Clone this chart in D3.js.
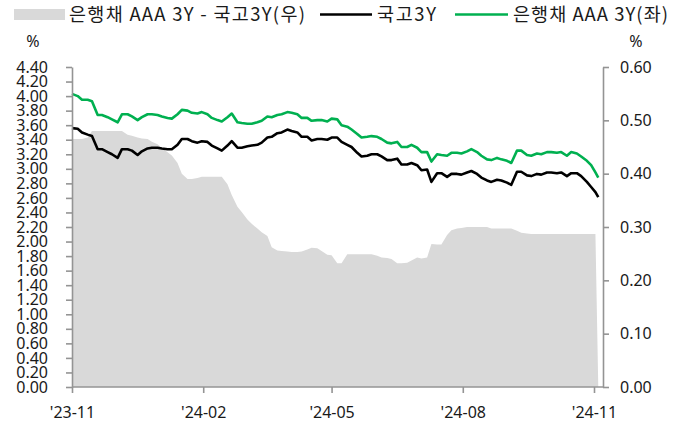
<!DOCTYPE html>
<html>
<head>
<meta charset="utf-8">
<script src="https://cdn.jsdelivr.net/npm/d3@7"></script>
<style>
  html, body { margin: 0; padding: 0; background: #fff; }
  svg { display: block; }
  text { font-family: "Noto Sans", "Noto Sans CJK KR", sans-serif; fill: #1a1a1a; }
  .kr { font-family: "Noto Sans CJK KR", "Noto Sans", sans-serif; }
</style>
</head>
<body>
<svg id="chart" width="684" height="425"></svg>
<script>
// ---------------- DATA ----------------
const dates = ["2023-11-01","2023-11-05","2023-11-08","2023-11-12","2023-11-15","2023-11-19","2023-11-22","2023-11-26","2023-11-29",
"2023-12-03","2023-12-06","2023-12-10","2023-12-13","2023-12-17","2023-12-20","2023-12-24","2023-12-27","2023-12-31",
"2024-01-03","2024-01-07","2024-01-10","2024-01-14","2024-01-17","2024-01-21","2024-01-24","2024-01-28","2024-01-31",
"2024-02-04","2024-02-07","2024-02-11","2024-02-14","2024-02-18","2024-02-21","2024-02-25","2024-02-28",
"2024-03-03","2024-03-06","2024-03-10","2024-03-13","2024-03-17","2024-03-20","2024-03-24","2024-03-27","2024-03-31",
"2024-04-03","2024-04-07","2024-04-10","2024-04-14","2024-04-17","2024-04-21","2024-04-24","2024-04-28",
"2024-05-01","2024-05-05","2024-05-08","2024-05-12","2024-05-15","2024-05-19","2024-05-22","2024-05-26","2024-05-29",
"2024-06-02","2024-06-05","2024-06-09","2024-06-12","2024-06-16","2024-06-19","2024-06-23","2024-06-26","2024-06-30",
"2024-07-03","2024-07-07","2024-07-10","2024-07-14","2024-07-17","2024-07-21","2024-07-24","2024-07-28","2024-07-31",
"2024-08-04","2024-08-07","2024-08-11","2024-08-14","2024-08-18","2024-08-21","2024-08-25","2024-08-28",
"2024-09-01","2024-09-04","2024-09-08","2024-09-11","2024-09-15","2024-09-18","2024-09-22","2024-09-25","2024-09-29",
"2024-10-02","2024-10-06","2024-10-09","2024-10-13","2024-10-16","2024-10-20","2024-10-23","2024-10-27","2024-10-30",
"2024-11-02","2024-11-04"];

// 국고3Y (left axis, %)
const ktb3y = [3.56,3.55,3.50,3.47,3.45,3.27,3.27,3.23,3.20,
3.15,3.27,3.27,3.25,3.19,3.24,3.28,3.29,3.29,
3.28,3.27,3.27,3.33,3.41,3.41,3.38,3.36,3.38,
3.37,3.32,3.28,3.25,3.32,3.38,3.29,3.29,
3.31,3.32,3.33,3.36,3.43,3.44,3.49,3.50,3.54,
3.52,3.50,3.44,3.44,3.39,3.41,3.41,3.40,
3.43,3.43,3.37,3.33,3.30,3.22,3.17,3.18,3.20,
3.20,3.17,3.12,3.12,3.14,3.06,3.06,3.08,3.05,
2.98,2.99,2.82,2.94,2.94,2.89,2.93,2.93,2.92,
2.95,2.97,2.93,2.88,2.84,2.82,2.85,2.84,
2.81,2.78,2.96,2.96,2.91,2.90,2.93,2.92,2.95,
2.95,2.94,2.95,2.90,2.94,2.94,2.90,2.82,2.75,
2.68,2.61];

// 은행채 AAA 3Y (left axis, %)
const bankAAA3y = [4.03,4.00,3.95,3.95,3.93,3.74,3.74,3.71,3.68,
3.64,3.75,3.75,3.72,3.67,3.71,3.75,3.75,3.74,
3.72,3.70,3.69,3.75,3.81,3.80,3.77,3.76,3.78,
3.75,3.70,3.67,3.65,3.71,3.76,3.64,3.63,
3.62,3.62,3.64,3.66,3.72,3.71,3.74,3.75,3.78,
3.77,3.75,3.70,3.70,3.66,3.67,3.67,3.65,
3.69,3.68,3.60,3.58,3.54,3.48,3.43,3.44,3.45,
3.44,3.41,3.36,3.35,3.37,3.30,3.30,3.33,3.29,
3.23,3.23,3.10,3.20,3.19,3.18,3.22,3.22,3.21,
3.24,3.27,3.23,3.18,3.13,3.12,3.15,3.13,
3.11,3.08,3.25,3.25,3.19,3.18,3.21,3.20,3.23,
3.23,3.22,3.23,3.18,3.23,3.21,3.17,3.11,3.05,
2.95,2.88];

// 은행채 AAA 3Y - 국고3Y (right axis, %p)
const spread = [0.465,0.465,0.465,0.468,0.480,0.480,0.480,0.480,0.480,
0.480,0.480,0.473,0.471,0.468,0.466,0.465,0.460,0.455,
0.448,0.440,0.434,0.420,0.400,0.390,0.390,0.392,0.394,
0.394,0.394,0.394,0.394,0.380,0.360,0.338,0.328,
0.314,0.306,0.297,0.290,0.283,0.262,0.256,0.255,0.254,
0.253,0.253,0.254,0.258,0.261,0.260,0.255,0.248,
0.247,0.232,0.232,0.249,0.249,0.249,0.249,0.249,0.249,
0.246,0.243,0.242,0.240,0.232,0.232,0.233,0.237,0.243,
0.241,0.243,0.268,0.267,0.267,0.285,0.294,0.297,0.298,
0.300,0.300,0.300,0.300,0.300,0.297,0.297,0.297,
0.297,0.297,0.293,0.289,0.288,0.287,0.287,0.287,0.287,
0.287,0.287,0.287,0.287,0.287,0.287,0.287,0.287,0.287,
0.287,0.000];

const leftTicks = [0,0.2,0.4,0.6,0.8,1.0,1.2,1.4,1.6,1.8,2.0,2.2,2.4,2.6,2.8,3.0,3.2,3.4,3.6,3.8,4.0,4.2,4.4];
const rightTicks = [0,0.1,0.2,0.3,0.4,0.5,0.6];
const xTickDates = ["2023-11-01","2024-02-01","2024-05-01","2024-08-01","2024-11-01"];
const legendLabels = ["은행채 AAA 3Y - 국고3Y(우)", "국고3Y", "은행채 AAA 3Y(좌)"];

// ---------------- CHART ----------------
const parse = d3.timeParse("%Y-%m-%d");
const rows = dates.map((d, i) => ({ date: parse(d), ktb: ktb3y[i], bank: bankAAA3y[i], spr: spread[i] }));

const svg = d3.select("#chart");
const L = 72, R = 603, T = 67, B = 387;
const axisColor = "#949494";

const x = d3.scaleTime().domain([parse("2023-11-01"), parse("2024-11-01")]).range([L, 594]);
const yL = d3.scaleLinear().domain([0, 4.4]).range([B, T]);
const yR = d3.scaleLinear().domain([0, 0.6]).range([B, T]);

// area (right axis)
svg.append("path")
  .datum(rows)
  .attr("fill", "#d9d9d9")
  .attr("d", d3.area().x(d => x(d.date)).y0(yR(0)).y1(d => yR(d.spr)));

// lines
svg.append("path")
  .datum(rows)
  .attr("fill", "none").attr("stroke", "#00b050").attr("stroke-width", 2.6)
  .attr("stroke-linejoin", "round")
  .attr("d", d3.line().x(d => x(d.date)).y(d => yL(d.bank)));
svg.append("path")
  .datum(rows)
  .attr("fill", "none").attr("stroke", "#000000").attr("stroke-width", 2.6)
  .attr("stroke-linejoin", "round")
  .attr("d", d3.line().x(d => x(d.date)).y(d => yL(d.ktb)));

// axes
function styleAxis(g) {
  g.selectAll("path.domain").attr("stroke", axisColor).attr("stroke-width", 1.6);
  g.selectAll(".tick line").attr("stroke", axisColor).attr("stroke-width", 1.6);
  g.selectAll(".tick text").attr("font-family", "'Noto Sans', sans-serif").attr("font-size", 16).attr("fill", "#1a1a1a");
}

const gl = svg.append("g").attr("transform", `translate(${L},0)`)
  .call(d3.axisLeft(yL).tickValues(leftTicks).tickFormat(d3.format(".2f")).tickSize(6).tickSizeOuter(0).tickPadding(18));
styleAxis(gl);

const gr = svg.append("g").attr("transform", `translate(${R},0)`)
  .call(d3.axisRight(yR).tickValues(rightTicks).tickFormat(d3.format(".2f")).tickSize(6).tickSizeOuter(0).tickPadding(11));
styleAxis(gr);

const gb = svg.append("g").attr("transform", `translate(0,${B})`)
  .call(d3.axisBottom(x).tickValues(xTickDates.map(parse)).tickFormat(d3.timeFormat("'%y-%m")).tickSize(6).tickSizeOuter(0).tickPadding(14));
styleAxis(gb);
gb.select("path.domain").remove();
svg.append("line").attr("x1", L).attr("x2", R).attr("y1", B).attr("y2", B)
  .attr("stroke", axisColor).attr("stroke-width", 1.6);

// unit labels
svg.append("text").attr("x", 33).attr("y", 47).attr("text-anchor", "middle").attr("font-size", 16).text("%");
svg.append("text").attr("x", 636).attr("y", 47).attr("text-anchor", "middle").attr("font-size", 16).text("%");

// legend
const lg = svg.append("g");
const fs = 18.5;
lg.append("rect").attr("x", 14).attr("y", 9).attr("width", 51).attr("height", 11).attr("fill", "#d9d9d9");
lg.append("text").attr("class", "kr").attr("x", 69).attr("y", 21).attr("font-size", fs)
  .attr("textLength", 236).attr("lengthAdjust", "spacing").text(legendLabels[0]);
lg.append("line").attr("x1", 320).attr("x2", 372).attr("y1", 14.5).attr("y2", 14.5).attr("stroke", "#000").attr("stroke-width", 2.6);
lg.append("text").attr("class", "kr").attr("x", 377).attr("y", 21).attr("font-size", fs)
  .attr("textLength", 59).attr("lengthAdjust", "spacing").text(legendLabels[1]);
lg.append("line").attr("x1", 455).attr("x2", 508).attr("y1", 14.5).attr("y2", 14.5).attr("stroke", "#00b050").attr("stroke-width", 2.6);
lg.append("text").attr("class", "kr").attr("x", 513).attr("y", 21).attr("font-size", fs)
  .attr("textLength", 155).attr("lengthAdjust", "spacing").text(legendLabels[2]);
</script>
</body>
</html>
